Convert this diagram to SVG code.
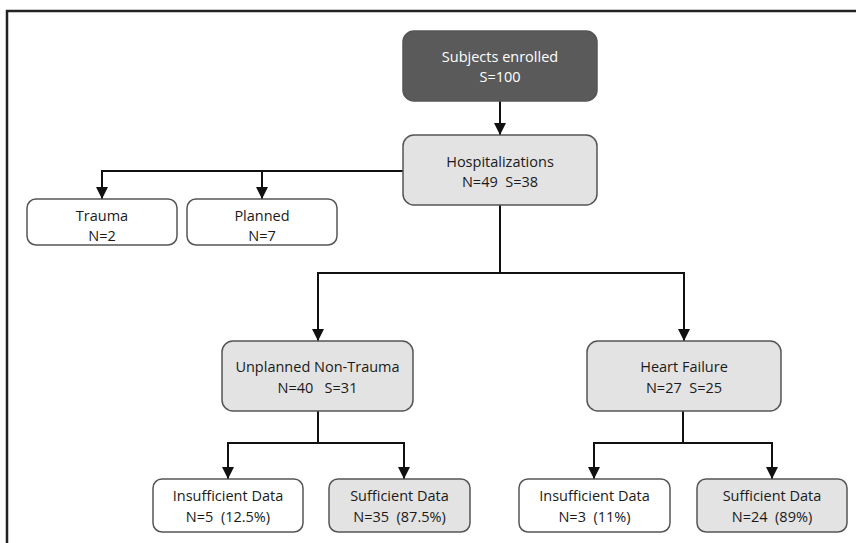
<svg xmlns="http://www.w3.org/2000/svg" width="856" height="543" viewBox="0 0 856 543">
<defs>
<marker id="ah" viewBox="0 0 12 12" refX="12" refY="6" markerWidth="12" markerHeight="12" markerUnits="userSpaceOnUse" orient="auto">
<path d="M0,0 L12,6 L0,12 Z" fill="#111"/>
</marker>
<style>
.box{stroke:#555;stroke-width:1.5}
.w{fill:#fff}
.g{fill:#e3e3e3}
.d{fill:#5a5a5a}
text{font-family:"Open Sans","Liberation Sans",sans-serif;font-size:14.5px;text-anchor:middle;fill:#1a1a1a}
.lt{fill:#fff}
.c{fill:none;stroke:#111;stroke-width:2}
</style>
</defs>
<rect width="856" height="543" fill="#fff"/>
<path d="M7,543 V11 H856" fill="none" stroke="#222" stroke-width="2.5"/>
<g id="connectors" class="c">
<path d="M500,101 V135" marker-end="url(#ah)"/>
<path d="M403,171 H102 V199" marker-end="url(#ah)"/>
<path d="M262,171 V199" marker-end="url(#ah)"/>
<path d="M500,205 V273 H318 V341" marker-end="url(#ah)"/>
<path d="M500,273 H684 V341" marker-end="url(#ah)"/>
<path d="M318,411 V443 H228 V479" marker-end="url(#ah)"/>
<path d="M318,443 H404 V479" marker-end="url(#ah)"/>
<path d="M683,411 V443 H594 V479" marker-end="url(#ah)"/>
<path d="M683,443 H772 V479" marker-end="url(#ah)"/>
</g>
<g id="subjects">
<rect class="box d" x="403" y="31" width="194" height="70" rx="11"/>
<text class="lt" x="500" y="62">Subjects enrolled</text>
<text class="lt" x="500" y="82">S=100</text>
</g>
<g id="hospitalizations">
<rect class="box g" x="403" y="135" width="194" height="70" rx="11"/>
<text x="500" y="167">Hospitalizations</text>
<text x="500" y="187" xml:space="preserve">N=49  S=38</text>
</g>
<g id="trauma">
<rect class="box w" x="27" y="199" width="150" height="46" rx="9"/>
<text x="102" y="221">Trauma</text>
<text x="102" y="241">N=2</text>
</g>
<g id="planned">
<rect class="box w" x="187" y="199" width="150" height="46" rx="9"/>
<text x="262" y="221">Planned</text>
<text x="262" y="241">N=7</text>
</g>
<g id="unplanned">
<rect class="box g" x="222" y="341" width="191" height="70" rx="11"/>
<text x="317.5" y="372">Unplanned Non-Trauma</text>
<text x="317.5" y="393" xml:space="preserve">N=40   S=31</text>
</g>
<g id="heartfailure">
<rect class="box g" x="587" y="341" width="194" height="70" rx="11"/>
<text x="684" y="372">Heart Failure</text>
<text x="684" y="393" xml:space="preserve">N=27  S=25</text>
</g>
<g id="insufficient1">
<rect class="box w" x="153" y="479" width="150" height="53" rx="9"/>
<text x="228" y="501">Insufficient Data</text>
<text x="228" y="522" xml:space="preserve">N=5  (12.5%)</text>
</g>
<g id="sufficient1">
<rect class="box g" x="329" y="479" width="141" height="53" rx="9"/>
<text x="399.5" y="501">Sufficient Data</text>
<text x="399.5" y="522" xml:space="preserve">N=35  (87.5%)</text>
</g>
<g id="insufficient2">
<rect class="box w" x="519" y="479" width="151" height="53" rx="9"/>
<text x="594.5" y="501">Insufficient Data</text>
<text x="594.5" y="522" xml:space="preserve">N=3  (11%)</text>
</g>
<g id="sufficient2">
<rect class="box g" x="697" y="479" width="150" height="53" rx="9"/>
<text x="772" y="501">Sufficient Data</text>
<text x="772" y="522" xml:space="preserve">N=24  (89%)</text>
</g>
</svg>
